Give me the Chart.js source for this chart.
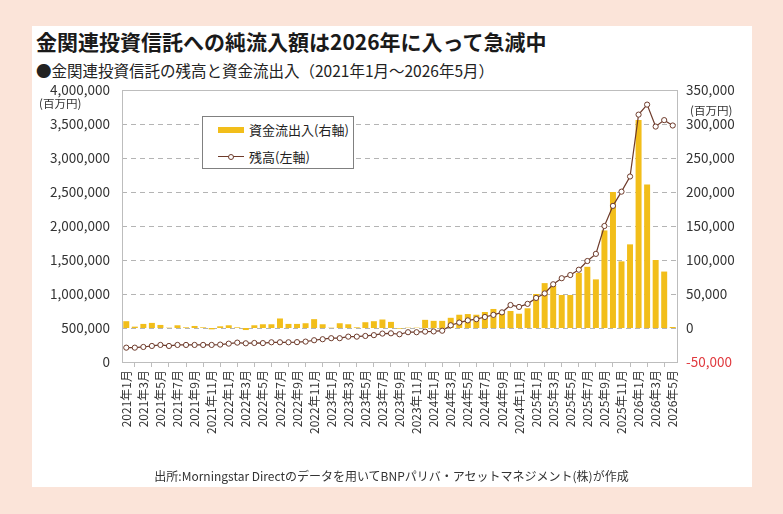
<!DOCTYPE html>
<html lang="ja">
<head>
<meta charset="utf-8">
<script src="https://cdn.jsdelivr.net/npm/chart.js@4/dist/chart.umd.min.js"></script>
<style>
  body { margin: 0; background: #fbe4d9; font-family: "Noto Sans CJK JP", "Noto Sans", sans-serif; }
  #page { position: relative; width: 783px; height: 514px; overflow: hidden; }
  #panel { position: absolute; left: 32px; top: 26px; width: 720px; height: 461px; background: #fff; }
  #title { position: absolute; left: 36px; top: 29px; font-size: 21px; font-weight: bold; color: #1a1a1a; line-height: 24px; white-space: nowrap; }
  #subtitle { position: absolute; left: 36px; top: 61px; font-size: 15.5px; color: #222; line-height: 18px; white-space: nowrap; }
  #footer { position: absolute; left: 0; width: 783px; top: 468px; text-align: center; font-size: 12px; color: #333; line-height: 16px; }
  .unit { position: absolute; font-size: 11.5px; color: #333; line-height: 13px; }
  #chart { position: absolute; left: 0; top: 0; }
  #legend { position: absolute; left: 202px; top: 116px; width: 150px; height: 51px; border: 1px solid #808080; background: #fff; font-size: 13px; color: #222; }
  .row { position: absolute; left: 15px; height: 16px; line-height: 16px; white-space: nowrap; }
  .bar-sw { position: absolute; left: 0; top: 5px; width: 26px; height: 6px; background: #f2be1a; }
  .line-sw { position: absolute; left: 0; top: 7px; width: 26px; height: 1px; background: #6e3b2b; }
  .dot-sw { position: absolute; left: 10px; top: 5px; width: 4px; height: 4px; border: 1px solid #6e3b2b; border-radius: 50%; background: #fff; }
  .lab { position: absolute; left: 31px; top: 0; }
</style>
</head>
<body>
<div id="page">
  <div id="panel"></div>
  <div id="title">金関連投資信託への純流入額は2026年に入って急減中</div>
  <div id="subtitle">●金関連投資信託の残高と資金流出入（2021年1月～2026年5月）</div>
  <canvas id="chart" width="783" height="514"></canvas>
  <div class="unit" style="left:39px; top:97px;">(百万円)</div>
  <div class="unit" style="left:690px; top:104px;">(百万円)</div>
  <div id="legend">
    <div class="row" style="top:5px;"><div class="bar-sw"></div><div class="lab">資金流出入(右軸)</div></div>
    <div class="row" style="top:32px;"><div class="line-sw"></div><div class="dot-sw"></div><div class="lab">残高(左軸)</div></div>
  </div>
  <div id="footer">出所:Morningstar Directのデータを用いてBNPパリバ・アセットマネジメント(株)が作成</div>
</div>
<script>
// months, Jan 2021 .. May 2026
const months = [
    '2021年1月','2021年2月','2021年3月','2021年4月','2021年5月','2021年6月','2021年7月','2021年8月','2021年9月','2021年10月','2021年11月','2021年12月',
    '2022年1月','2022年2月','2022年3月','2022年4月','2022年5月','2022年6月','2022年7月','2022年8月','2022年9月','2022年10月','2022年11月','2022年12月',
    '2023年1月','2023年2月','2023年3月','2023年4月','2023年5月','2023年6月','2023年7月','2023年8月','2023年9月','2023年10月','2023年11月','2023年12月',
    '2024年1月','2024年2月','2024年3月','2024年4月','2024年5月','2024年6月','2024年7月','2024年8月','2024年9月','2024年10月','2024年11月','2024年12月',
    '2025年1月','2025年2月','2025年3月','2025年4月','2025年5月','2025年6月','2025年7月','2025年8月','2025年9月','2025年10月','2025年11月','2025年12月',
    '2026年1月','2026年2月','2026年3月','2026年4月','2026年5月'
]

// 資金流出入 (right axis, 百万円)
const flows = [
    10000, 2000, 6000, 7500, 4500, 500, 4000, 1000, 3000, 1000, -2000, 2500,
    4000, 1000, -3000, 4000, 5500, 5500, 14000, 6000, 6000, 7000, 13000, 5500,
    500, 7000, 5500, 1000, 8500, 10000, 12500, 9000, -1000, 500, 500, 12000,
    10500, 10500, 15000, 19500, 20500, 19500, 23500, 28000, 21000, 25000, 21000, 29000,
    50000, 66000, 62000, 48500, 48500, 81000, 90000, 71500, 143500, 200000, 98000, 123000,
    306000, 211000, 100000, 83000, 1500
]

// 残高 (left axis, 百万円)
const balance = [
    211000, 211000, 221000, 236000, 251000, 236000, 251000, 251000, 251000, 251000, 251000, 256000,
    270000, 285000, 275000, 280000, 278000, 290000, 290000, 290000, 292000, 300000, 320000, 335000,
    350000, 350000, 373000, 373000, 383000, 395000, 418000, 422000, 408000, 438000, 438000, 447000,
    450000, 460000, 540000, 580000, 612000, 630000, 662000, 693000, 730000, 838000, 810000, 855000,
    942000, 1008000, 1143000, 1232000, 1279000, 1357000, 1485000, 1590000, 2000000, 2296000, 2505000, 2728000,
    3638000, 3785000, 3462000, 3557000, 3478000
]

const leftTicks  = { min: 0, max: 4000000, step: 500000 }
const rightTicks = { min: -50000, max: 350000, step: 50000 }

const fmt = v => v.toLocaleString('en-US')

// grey frame and dashed guide lines in the plot area
const frame = {
    id: 'frame',
    beforeDatasetsDraw(chart) {
        const a = chart.chartArea
        const ctx = chart.ctx
        const y = chart.scales.y
        ctx.save()
        ctx.strokeStyle = '#b4b4b4'
        ctx.lineWidth = 1
        ctx.setLineDash([5, 4])
        y.ticks.forEach(t => {
            if (t.value === leftTicks.min || t.value === leftTicks.max) return
            const py = Math.round(y.getPixelForValue(t.value)) + 0.5
            ctx.beginPath()
            ctx.moveTo(a.left, py)
            ctx.lineTo(a.right, py)
            ctx.stroke()
        })
        ctx.setLineDash([])
        ctx.strokeStyle = '#bdbdbd'
        ctx.strokeRect(Math.round(a.left) + 0.5, Math.round(a.top) + 0.5, Math.round(a.right - a.left), Math.round(a.bottom - a.top))
        ctx.restore()
    }
}

new Chart(document.getElementById('chart'), {
    type: 'bar',
    data: {
        labels: months,
        datasets: [
            {
                type: 'line',
                label: '残高(左軸)',
                data: balance,
                yAxisID: 'y',
                borderColor: '#6e3b2b',
                borderWidth: 1.2,
                pointRadius: 2.6,
                pointBackgroundColor: '#ffffff',
                pointBorderColor: '#6e3b2b',
                pointBorderWidth: 1,
                tension: 0,
                order: 0
            },
            {
                type: 'bar',
                label: '資金流出入(右軸)',
                data: flows,
                yAxisID: 'y1',
                backgroundColor: '#f2be1a',
                barPercentage: 0.7,
                categoryPercentage: 1.0,
                order: 1
            }
        ]
    },
    options: {
        responsive: false,
        animation: false,
        layout: { padding: { left: 30, right: 0, top: 90, bottom: 0 } },
        plugins: { legend: { display: false }, tooltip: { enabled: false } },
        scales: {
            x: {
                offset: true,
                afterFit(scale) { scale.height = 152 },
                grid: { display: true, offset: true, drawOnChartArea: false, drawTicks: true, tickLength: 5, color: '#bdbdbd', tickColor: '#bdbdbd' },
                border: { display: false },
                ticks: {
                    autoSkip: false,
                    maxRotation: 90,
                    minRotation: 90,
                    padding: 3,
                    color: '#333',
                    font: { family: '"Noto Sans CJK JP", sans-serif', size: 12 },
                    callback: (v, i) => (i % 2 === 0 ? months[i] : null)
                }
            },
            y: {
                position: 'left',
                min: leftTicks.min,
                max: leftTicks.max,
                afterFit(scale) { scale.width = 92 },
                grid: { display: false, drawTicks: false },
                border: { display: false },
                ticks: {
                    stepSize: leftTicks.step,
                    padding: 12,
                    color: '#333',
                    font: { family: '"Noto Sans CJK JP", sans-serif', size: 13.5 },
                    callback: v => fmt(v)
                }
            },
            y1: {
                position: 'right',
                min: rightTicks.min,
                max: rightTicks.max,
                afterFit(scale) { scale.width = 106 },
                grid: { display: false, drawTicks: false },
                border: { display: false },
                ticks: {
                    stepSize: rightTicks.step,
                    padding: 9,
                    color: ctx => (ctx.tick && ctx.tick.value < 0 ? '#e0393e' : '#333'),
                    font: { family: '"Noto Sans CJK JP", sans-serif', size: 13.5 },
                    callback: v => fmt(v)
                }
            }
        }
    },
    plugins: [frame]
})
</script>
</body>
</html>
